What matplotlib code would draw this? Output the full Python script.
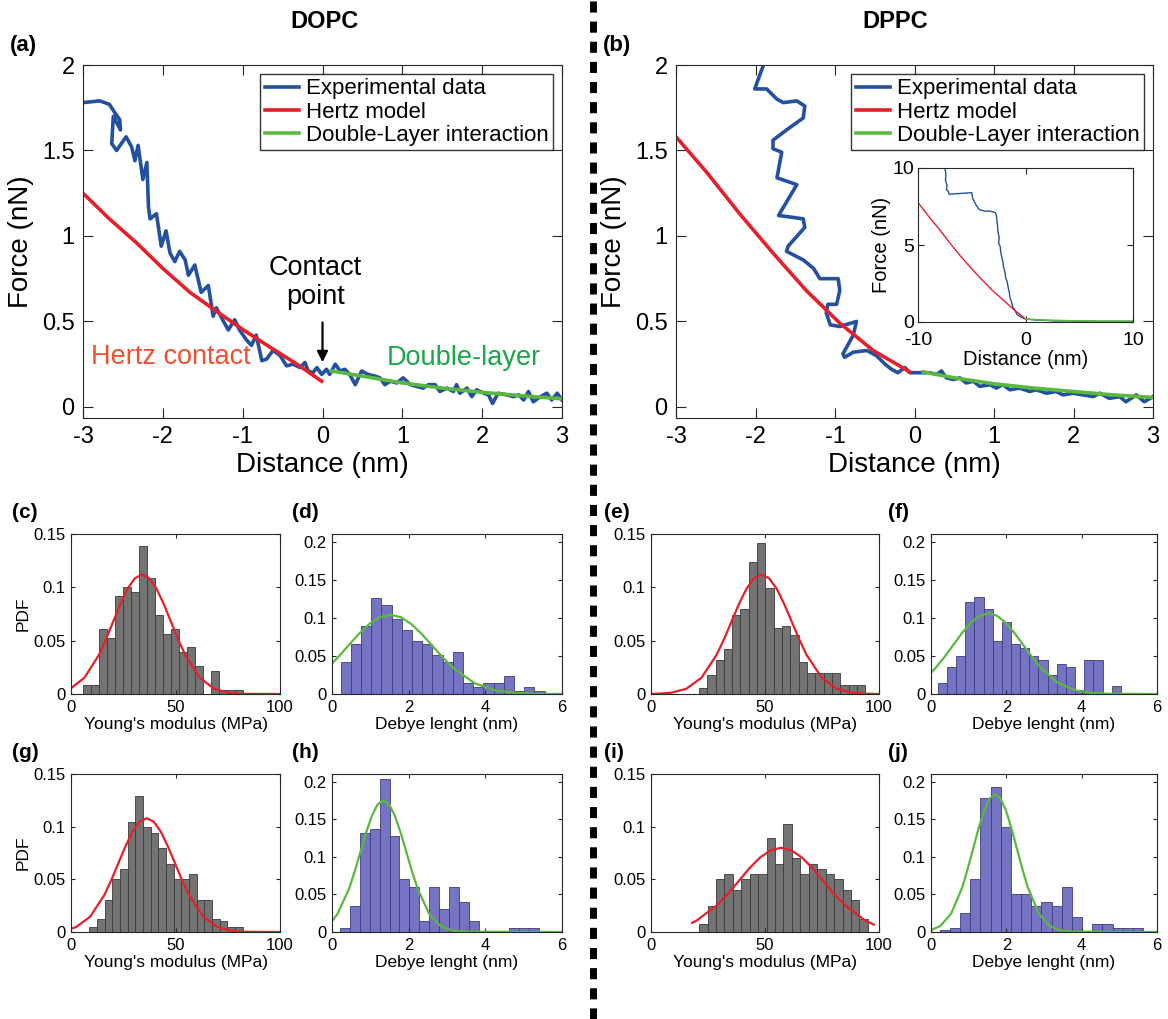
import matplotlib
matplotlib.use('Agg')
import numpy as np
import matplotlib.pyplot as plt
from matplotlib.lines import Line2D

plt.rcParams['font.family'] = ['Liberation Sans', 'DejaVu Sans']
plt.rcParams['axes.unicode_minus'] = False

# ---------------- data: force curves ----------------
# (a) DOPC
a_exp_x = [-3.00, -2.79, -2.67, -2.60, -2.54, -2.53, -2.62, -2.63, -2.64, -2.58, -2.46, -2.39, -2.35,
           -2.31, -2.25, -2.20, -2.18, -2.16, -2.08, -2.02, -1.96, -1.91, -1.85, -1.79, -1.72, -1.68,
           -1.60, -1.52, -1.43, -1.37, -1.33, -1.24, -1.18, -1.10, -1.04, -0.95, -0.89, -0.83, -0.76,
           -0.70, -0.62, -0.53, -0.45, -0.37, -0.28, -0.22, -0.18, -0.12, -0.07, -0.01, 0.05, 0.09,
           0.16, 0.22, 0.28, 0.34, 0.41, 0.49, 0.57, 0.66, 0.72, 0.78, 0.85, 0.93, 1.01, 1.10, 1.18,
           1.26, 1.33, 1.41, 1.47, 1.56, 1.64, 1.68, 1.72, 1.81, 1.87, 1.93, 2.02, 2.08, 2.13, 2.20,
           2.31, 2.39, 2.46, 2.52, 2.58, 2.64, 2.73, 2.81, 2.87, 2.94, 3.00]
a_exp_y = [1.78, 1.79, 1.77, 1.72, 1.68, 1.62, 1.70, 1.62, 1.54, 1.50, 1.58, 1.52, 1.44,
           1.53, 1.33, 1.43, 1.17, 1.10, 1.13, 0.94, 1.03, 0.90, 0.85, 0.91, 0.86, 0.77,
           0.83, 0.67, 0.71, 0.53, 0.58, 0.50, 0.45, 0.51, 0.45, 0.39, 0.36, 0.42, 0.27,
           0.28, 0.33, 0.30, 0.24, 0.25, 0.23, 0.26, 0.21, 0.20, 0.23, 0.19, 0.22, 0.19,
           0.25, 0.21, 0.22, 0.19, 0.13, 0.21, 0.19, 0.18, 0.17, 0.13, 0.15, 0.14, 0.17, 0.13, 0.12,
           0.11, 0.13, 0.13, 0.09, 0.11, 0.09, 0.13, 0.08, 0.11, 0.06, 0.10, 0.08, 0.07, 0.02, 0.08,
           0.07, 0.06, 0.07, 0.04, 0.09, 0.03, 0.06, 0.08, 0.04, 0.08, 0.04]
a_hertz_x = [-3.00, -2.67, -2.33, -2.00, -1.66, -1.33, -0.99, -0.66, -0.32, -0.01]
a_hertz_y = [1.25, 1.10, 0.96, 0.81, 0.67, 0.56, 0.45, 0.35, 0.25, 0.15]
a_dl_x = [0.11, 0.5, 1.0, 1.5, 2.0, 2.5, 3.0]
a_dl_y = [0.21, 0.18, 0.14, 0.11, 0.085, 0.065, 0.047]

# (b) DPPC
b_exp_x = [-1.90, -2.01, -1.86, -1.73, -1.65, -1.48, -1.38, -1.40, -1.61, -1.78, -1.78, -1.67,
           -1.73, -1.48, -1.71, -1.40, -1.38, -1.59, -1.61, -1.40, -1.27, -1.19, -0.96, -0.94,
           -0.98, -1.09, -1.11, -1.06, -0.94, -0.73, -0.77, -0.90, -0.88, -0.77, -0.60, -0.48,
           -0.37, -0.29, -0.21, -0.12, -0.06, 0.02, 0.11, 0.19, 0.28, 0.34, 0.40, 0.49, 0.57,
           0.65, 0.74, 0.82, 0.95, 1.03, 1.11, 1.20, 1.32, 1.45, 1.53, 1.66, 1.78, 1.87, 1.99,
           2.12, 2.25, 2.33, 2.45, 2.58, 2.66, 2.79, 2.89, 3.00]
b_exp_y = [2.00, 1.86, 1.86, 1.80, 1.78, 1.79, 1.76, 1.69, 1.62, 1.56, 1.51, 1.49,
           1.34, 1.30, 1.12, 1.10, 1.05, 0.94, 0.91, 0.86, 0.81, 0.75, 0.75, 0.68,
           0.60, 0.60, 0.55, 0.48, 0.47, 0.50, 0.42, 0.31, 0.29, 0.32, 0.33, 0.30,
           0.25, 0.22, 0.20, 0.23, 0.20, 0.20, 0.20, 0.20, 0.19, 0.21, 0.17, 0.16, 0.17,
           0.14, 0.15, 0.12, 0.13, 0.11, 0.13, 0.10, 0.11, 0.09, 0.10, 0.08, 0.09, 0.07, 0.08,
           0.07, 0.06, 0.08, 0.05, 0.06, 0.03, 0.07, 0.03, 0.06]
b_hertz_x = [-3.00, -2.61, -2.20, -1.78, -1.36, -0.94, -0.52, -0.06]
b_hertz_y = [1.58, 1.37, 1.13, 0.90, 0.68, 0.49, 0.33, 0.205]
b_dl_x = [0.11, 0.5, 1.0, 1.5, 2.0, 2.5, 3.0]
b_dl_y = [0.205, 0.17, 0.135, 0.11, 0.09, 0.07, 0.055]

# (b) inset, wide range
in_exp_x = [-7.5, -7.4, -7.45, -7.3, -7.35, -7.2, -7.1, -7.0, -6.0, -5.0, -4.9, -4.6, -4.3, -3.8,
            -3.3, -2.8, -2.7, -2.6, -2.55, -2.45, -2.5, -2.35, -2.3, -2.2, -2.1, -2.05, -1.9,
            -1.85, -1.7, -1.6, -1.5, -1.45, -1.3, -1.2, -1.0, -0.8, -0.5, -0.2, 0.0, 1.0, 2.0,
            3.0, 4.0, 5.0, 6.0, 7.0, 8.0, 9.0, 10.0]
in_exp_y = [10.0, 9.6, 9.2, 8.9, 8.6, 8.5, 8.3, 8.3, 8.35, 8.4, 8.0, 7.6, 7.3, 7.2,
            7.2, 7.1, 6.9, 6.2, 5.8, 5.5, 5.1, 4.9, 4.5, 4.2, 3.9, 3.6, 3.2,
            2.9, 2.6, 2.2, 1.9, 1.6, 1.3, 1.0, 0.8, 0.5, 0.35, 0.25, 0.2, 0.12, 0.1,
            0.06, 0.08, 0.04, 0.06, 0.03, 0.05, 0.04, 0.05]
in_hertz_x = [-10, -9, -8, -7, -6, -5, -4, -3, -2, -1, 0]
in_hertz_y = [7.76, 6.85, 6.0, 5.1, 4.24, 3.45, 2.7, 2.0, 1.38, 0.75, 0.2]
in_dl_x = [0, 1, 2, 4, 6, 8, 10]
in_dl_y = [0.2, 0.15, 0.12, 0.08, 0.06, 0.05, 0.05]

# ---------------- data: histograms (bin start, bin width, PDF heights) ----------------
c_start, c_width = 5.9, 3.83
c_pdf = [0.0088, 0.0088, 0.061, 0.0525, 0.0916, 0.100, 0.096, 0.139, 0.109, 0.074,
         0.056, 0.061, 0.039, 0.044, 0.0266, 0.0, 0.022, 0.0038, 0.0038, 0.0038]
c_fit_x = [0, 6.4, 13.3, 16.75, 20.2, 23.65, 27.1, 30.55, 34, 37.45, 40.9, 44.35, 47.8,
           51.25, 54.7, 61.6, 68.5, 75.4, 82.3, 100]
c_fit_y = [0.0054, 0.0152, 0.0364, 0.0513, 0.0679, 0.0845, 0.0988, 0.1085, 0.112, 0.1085,
           0.0988, 0.0845, 0.0679, 0.0513, 0.0364, 0.0152, 0.0049, 0.0012, 0.0002, 0.0]

d_start, d_width = 0.225, 0.266
d_pdf = [0.042, 0.065, 0.089, 0.126, 0.117, 0.098, 0.084, 0.070, 0.065, 0.051,
         0.042, 0.055, 0.014, 0.009, 0.014, 0.014, 0.023, 0.0044, 0.009, 0.0044]
d_fit_x = [0, 0.145, 0.42, 0.695, 0.97, 1.245, 1.52, 1.795, 2.07, 2.345, 2.62, 2.895,
           3.17, 3.72, 4.27, 4.82, 5.37, 6.0]
d_fit_y = [0.040, 0.0476, 0.0631, 0.0785, 0.0918, 0.1008, 0.104, 0.1008, 0.0918, 0.0785,
           0.0631, 0.0476, 0.0338, 0.0141, 0.0046, 0.0012, 0.0002, 0.0]

e_start, e_width = 21.0, 3.65
e_pdf = [0.006, 0.018, 0.032, 0.042, 0.0736, 0.080, 0.1236, 0.142, 0.099, 0.062,
         0.064, 0.0557, 0.03, 0.02, 0.02, 0.02, 0.02, 0.008, 0.008, 0.008]
e_fit_x = [0, 2.3, 8.9, 15.5, 22.1, 28.7, 32.0, 35.3, 38.6, 41.9, 45.2, 48.5, 51.8, 55.1,
           58.4, 61.7, 65.0, 68.3, 74.9, 81.5, 88.1, 94.7, 100]
e_fit_y = [0.0001, 0.0002, 0.0012, 0.0049, 0.0152, 0.0364, 0.0513, 0.0679, 0.0845, 0.0988,
           0.1085, 0.112, 0.1085, 0.0988, 0.0845, 0.0679, 0.0513, 0.0364, 0.0152, 0.0049,
           0.0012, 0.0002, 0.0]

f_start, f_width = 0.18, 0.243
f_pdf = [0.015, 0.035, 0.05, 0.121, 0.127, 0.111, 0.069, 0.095, 0.065, 0.06,
         0.05, 0.045, 0.025, 0.04, 0.035, 0.005, 0.045, 0.045, 0.0, 0.01]
f_fit_x = [0, 0.125, 0.358, 0.59, 0.823, 1.055, 1.288, 1.52, 1.753, 1.985, 2.218, 2.45,
           2.683, 2.915, 3.38, 3.845, 4.31, 4.775, 6.0]
f_fit_y = [0.028, 0.0344, 0.0485, 0.0643, 0.08, 0.0935, 0.1027, 0.106, 0.1027, 0.0935, 0.08,
           0.0643, 0.0485, 0.0344, 0.0143, 0.0047, 0.0012, 0.0002, 0.0]

g_start, g_width = 8.75, 3.67
g_pdf = [0.005, 0.012, 0.03, 0.05, 0.06, 0.104, 0.129, 0.100, 0.094, 0.08,
         0.065, 0.05, 0.05, 0.055, 0.03, 0.03, 0.012, 0.01, 0.005, 0.005]
g_fit_x = [0, 2.45, 9.2, 15.95, 19.3, 22.7, 26.1, 29.45, 32.8, 36.2, 39.6, 42.95, 46.3,
           49.7, 53.1, 56.45, 63.2, 69.95, 76.7, 83.45, 100]
g_fit_y = [0.003, 0.0047, 0.0146, 0.0351, 0.0494, 0.0655, 0.0815, 0.0953, 0.1047, 0.108,
           0.1047, 0.0953, 0.0815, 0.0655, 0.0494, 0.0351, 0.0146, 0.0047, 0.0012, 0.0002, 0.0]

h_start, h_width = 0.2, 0.26
h_pdf = [0.005, 0.035, 0.132, 0.137, 0.2035, 0.127, 0.07, 0.06, 0.015, 0.06,
         0.03, 0.06, 0.04, 0.015, 0.0, 0.0, 0.0, 0.005, 0.005, 0.005]
h_fit_x = [0, 0.14, 0.44, 0.59, 0.74, 0.89, 1.04, 1.19, 1.34, 1.49, 1.64, 1.79, 1.94,
           2.09, 2.24, 2.54, 2.84, 3.14, 3.44, 6.0]
h_fit_y = [0.0145, 0.0237, 0.0568, 0.0801, 0.1061, 0.1321, 0.1544, 0.1696, 0.175, 0.1696,
           0.1544, 0.1321, 0.1061, 0.0801, 0.0568, 0.0237, 0.0077, 0.0019, 0.0004, 0.0]

i_start, i_width = 21.1, 3.7
i_pdf = [0.008, 0.025, 0.05, 0.055, 0.04, 0.05, 0.055, 0.055, 0.0888, 0.065,
         0.103, 0.07, 0.055, 0.065, 0.06, 0.055, 0.05, 0.04, 0.03, 0.012]
i_fit_x = [18, 20, 29.25, 33.9, 38.5, 43.1, 47.75, 52.4, 57, 61.6, 66.25, 70.9, 75.5,
           80.1, 84.75, 94, 97.7]
i_fit_y = [0.0087, 0.0108, 0.026, 0.0366, 0.0485, 0.0604, 0.0706, 0.0775, 0.08, 0.0775,
           0.0706, 0.0604, 0.0485, 0.0366, 0.026, 0.0108, 0.0071]

j_start, j_width = 0.23, 0.27
j_pdf = [0.003, 0.005, 0.025, 0.07, 0.178, 0.193, 0.139, 0.05, 0.05, 0.035,
         0.04, 0.035, 0.06, 0.02, 0.0, 0.01, 0.01, 0.005, 0.005, 0.005]
j_fit_x = [0, 0.25, 0.54, 0.83, 0.975, 1.12, 1.265, 1.41, 1.555, 1.70, 1.845, 1.99, 2.135,
           2.28, 2.425, 2.57, 2.86, 3.15, 3.44, 3.73, 6.0]
j_fit_y = [0.0025, 0.008, 0.0248, 0.0594, 0.0838, 0.111, 0.1381, 0.1615, 0.1774, 0.183,
           0.1774, 0.1615, 0.1381, 0.111, 0.0838, 0.0594, 0.0248, 0.008, 0.002, 0.0004, 0.0]

# ---------------- style ----------------
BLUE = '#2350a0'
RED = '#e6202a'
GREEN = '#5ab93c'
GRAY_BAR = '#737373'
BLUE_BAR = '#7474c2'
AX_COL = '#262626'

W, H = 1168, 1019
fig = plt.figure(figsize=(W / 100, H / 100), dpi=100)


def px_axes(l, t, r, b):
    return fig.add_axes([l / W, 1 - b / H, (r - l) / W, (b - t) / H])


def style(ax, size, tlen=5, pad=4):
    ax.tick_params(direction='in', top=True, right=True, labelsize=size, length=tlen,
                   width=0.8, colors=AX_COL, labelcolor='black', pad=pad)
    for s in ax.spines.values():
        s.set_color(AX_COL)
        s.set_linewidth(0.8)


def force_panel(ax, ex, ey, hx, hy, dx, dy):
    ax.plot(ex, ey, color=BLUE, lw=2.6, label='Experimental data')
    ax.plot(hx, hy, color=RED, lw=2.6, label='Hertz model')
    ax.plot(dx, dy, color=GREEN, lw=2.6, label='Double-Layer interaction')
    ax.set_xlim(-3, 3)
    ax.set_ylim(-0.065, 2)
    ax.set_xticks([-3, -2, -1, 0, 1, 2, 3])
    ax.set_xticklabels(['-3', '-2', '-1', '0', '1', '2', '3'])
    ax.set_yticks([0, 0.5, 1, 1.5, 2])
    ax.set_yticklabels(['0', '0.5', '1', '1.5', '2'])
    style(ax, 17, 7, 6)
    ax.set_xlabel('Distance (nm)', fontsize=20, labelpad=3)
    ax.set_ylabel('Force (nN)', fontsize=20, labelpad=6)
    leg = ax.legend(loc='upper right', bbox_to_anchor=(0.981, 0.9745), fontsize=16,
                    fancybox=False, edgecolor='black', borderpad=0.2, handlelength=1.55,
                    handletextpad=0.3, labelspacing=0.1, borderaxespad=0)
    leg.get_frame().set_linewidth(1.0)


def hist_panel(ax, start, width, pdf, fx, fy, bar_col, fit_col, xmax, ymax, xticks, yticks,
               xlabel, ylabel=None):
    n = len(pdf)
    edges = start + width * np.arange(n)
    ax.bar(edges, pdf, width=width, align='edge', color=bar_col,
           edgecolor='#3a3a3a' if bar_col == GRAY_BAR else '#3c3c82', linewidth=0.6)
    ax.plot(fx, fy, color=fit_col, lw=1.6)
    ax.set_xlim(0, xmax)
    ax.set_ylim(0, ymax)
    ax.set_xticks(xticks)
    ax.set_xticklabels([f'{t:g}' for t in xticks])
    ax.set_yticks(yticks)
    ax.set_yticklabels([f'{t:g}' for t in yticks])
    style(ax, 12, 3)
    ax.set_xlabel(xlabel, fontsize=12.5, labelpad=2)
    if ylabel:
        ax.set_ylabel(ylabel, fontsize=12.5, labelpad=2)


# (a)
ax_a = px_axes(83, 65, 562, 418)
force_panel(ax_a, a_exp_x, a_exp_y, a_hertz_x, a_hertz_y, a_dl_x, a_dl_y)
ax_a.text(-2.9, 0.294, 'Hertz contact', color='#f0502d', fontsize=19.5, va='center')
ax_a.text(0.80, 0.285, 'Double-layer', color='#1aa64b', fontsize=19.5, va='center')
ax_a.text(-0.09, 0.73, 'Contact\npoint', ha='center', va='center', fontsize=19.5, linespacing=1.15)
ax_a.annotate('', xy=(0.0, 0.245), xytext=(0.0, 0.51),
              arrowprops=dict(arrowstyle='-|>', color='black', lw=1.6, mutation_scale=16))

# (b)
ax_b = px_axes(676, 65, 1153, 418)
force_panel(ax_b, b_exp_x, b_exp_y, b_hertz_x, b_hertz_y, b_dl_x, b_dl_y)

ax_in = px_axes(918, 168, 1133, 322)
ax_in.plot(in_exp_x, in_exp_y, color=BLUE, lw=1.0)
ax_in.plot(in_hertz_x, in_hertz_y, color=RED, lw=1.0)
ax_in.plot(in_dl_x, in_dl_y, color=GREEN, lw=1.2)
ax_in.set_xlim(-10, 10)
ax_in.set_ylim(0, 10)
ax_in.set_xticks([-10, 0, 10])
ax_in.set_xticklabels(['-10', '0', '10'])
ax_in.set_yticks([0, 5, 10])
style(ax_in, 14, 4)
ax_in.tick_params(axis='x', pad=7)
ax_in.tick_params(axis='y', pad=3)
ax_in.set_xlabel('Distance (nm)', fontsize=14.5, labelpad=1)
ax_in.set_ylabel('Force (nN)', fontsize=14.5, labelpad=1)

# histograms
row1 = (534, 694)
row2 = (774, 932)
ym = "Young's modulus (MPa)"
dl = 'Debye lenght (nm)'

ax_c = px_axes(71, row1[0], 280, row1[1])
hist_panel(ax_c, c_start, c_width, c_pdf, c_fit_x, c_fit_y, GRAY_BAR, RED, 100, 0.15,
           [0, 50, 100], [0, 0.05, 0.1, 0.15], ym, 'PDF')
ax_d = px_axes(332, row1[0], 562, row1[1])
hist_panel(ax_d, d_start, d_width, d_pdf, d_fit_x, d_fit_y, BLUE_BAR, GREEN, 6, 0.21,
           [0, 2, 4, 6], [0, 0.05, 0.1, 0.15, 0.2], dl)
ax_e = px_axes(651, row1[0], 879, row1[1])
hist_panel(ax_e, e_start, e_width, e_pdf, e_fit_x, e_fit_y, GRAY_BAR, RED, 100, 0.15,
           [0, 50, 100], [0, 0.05, 0.1, 0.15], ym)
ax_f = px_axes(931, row1[0], 1157, row1[1])
hist_panel(ax_f, f_start, f_width, f_pdf, f_fit_x, f_fit_y, BLUE_BAR, GREEN, 6, 0.21,
           [0, 2, 4, 6], [0, 0.05, 0.1, 0.15, 0.2], dl)

ax_g = px_axes(71, row2[0], 280, row2[1])
hist_panel(ax_g, g_start, g_width, g_pdf, g_fit_x, g_fit_y, GRAY_BAR, RED, 100, 0.15,
           [0, 50, 100], [0, 0.05, 0.1, 0.15], ym, 'PDF')
ax_h = px_axes(332, row2[0], 562, row2[1])
hist_panel(ax_h, h_start, h_width, h_pdf, h_fit_x, h_fit_y, BLUE_BAR, GREEN, 6, 0.21,
           [0, 2, 4, 6], [0, 0.05, 0.1, 0.15, 0.2], dl)
ax_i = px_axes(651, row2[0], 879, row2[1])
hist_panel(ax_i, i_start, i_width, i_pdf, i_fit_x, i_fit_y, GRAY_BAR, RED, 100, 0.15,
           [0, 50, 100], [0, 0.05, 0.1, 0.15], ym)
ax_j = px_axes(931, row2[0], 1157, row2[1])
hist_panel(ax_j, j_start, j_width, j_pdf, j_fit_x, j_fit_y, BLUE_BAR, GREEN, 6, 0.21,
           [0, 2, 4, 6], [0, 0.05, 0.1, 0.15, 0.2], dl)

# titles, panel labels, separator
fig.text(325 / W, 1 - 22 / H, 'DOPC', fontsize=17, fontweight='bold', ha='center', va='center')
fig.text(895 / W, 1 - 22 / H, 'DPPC', fontsize=17, fontweight='bold', ha='center', va='center')
labels = [('(a)', 10, 46, 16), ('(b)', 603, 46, 16),
          ('(c)', 12, 513, 15), ('(d)', 292, 513, 15), ('(e)', 604, 513, 15), ('(f)', 888, 513, 15),
          ('(g)', 12, 752, 15), ('(h)', 292, 752, 15), ('(i)', 604, 752, 15), ('(j)', 888, 752, 15)]
for lab, x, y, fs in labels:
    fig.text(x / W, 1 - y / H, lab, fontsize=fs, fontweight='bold', ha='left', va='center')

fig.add_artist(Line2D([593 / W, 593 / W], [0, 1], transform=fig.transFigure, color='black',
                      lw=5, dashes=(1.6, 1.3)))

fig.savefig('out.png', dpi=100)
